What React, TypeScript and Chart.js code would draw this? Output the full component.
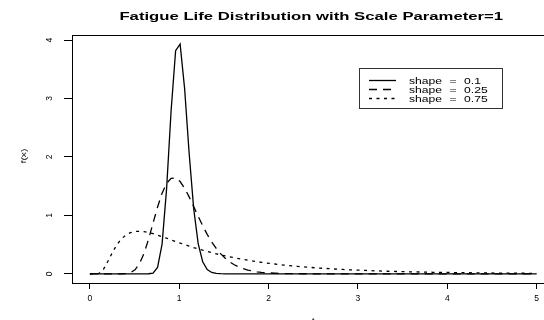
import React, { useEffect, useRef } from "react";
import { Chart, registerables } from "chart.js";

Chart.register(...registerables);

const TITLE = "Fatigue Life Distribution with Scale Parameter=1";
const X_LABEL = "t";
const Y_LABEL = "f(x)";
const X_TICKS = [0, 1, 2, 3, 4, 5];
const Y_TICKS = [0, 1, 2, 3, 4];
const LEGEND_LABELS = ["shape = 0.1", "shape = 0.25", "shape = 0.75"];

// evaluation grid of the original plot: 100 points from 0 to 5
const X_GRID = Array.from({ length: 100 }, (_, i) => (i * 5) / 99);

const SHAPE_01 = [
  0, 0, 0, 0, 0, 0, 0, 0, 0, 0,
  0, 0, 0, 0.001, 0.013, 0.11, 0.508, 1.454, 2.789, 3.819,
  3.93, 3.165, 2.063, 1.119, 0.517, 0.207, 0.073, 0.023, 0.007, 0.002,
  0, 0, 0, 0, 0, 0, 0, 0, 0, 0,
  0, 0, 0, 0, 0, 0, 0, 0, 0, 0,
  0, 0, 0, 0, 0, 0, 0, 0, 0, 0,
  0, 0, 0, 0, 0, 0, 0, 0, 0, 0,
  0, 0, 0, 0, 0, 0, 0, 0, 0, 0,
  0, 0, 0, 0, 0, 0, 0, 0, 0, 0,
  0, 0, 0, 0, 0, 0, 0, 0, 0, 0,
];

const SHAPE_025 = [
  0, 0, 0, 0, 0, 0, 0, 0.0004, 0.004, 0.02,
  0.069, 0.174, 0.35, 0.59, 0.868, 1.143, 1.379, 1.547, 1.634, 1.641,
  1.579, 1.464, 1.316, 1.151, 0.983, 0.822, 0.675, 0.545, 0.434, 0.341,
  0.265, 0.204, 0.155, 0.117, 0.088, 0.065, 0.048, 0.035, 0.026, 0.019,
  0.014, 0.01, 0.007, 0.005, 0.004, 0.003, 0.002, 0.001, 0.001, 0.001,
  0, 0, 0, 0, 0, 0, 0, 0, 0, 0,
  0, 0, 0, 0, 0, 0, 0, 0, 0, 0,
  0, 0, 0, 0, 0, 0, 0, 0, 0, 0,
  0, 0, 0, 0, 0, 0, 0, 0, 0, 0,
  0, 0, 0, 0, 0, 0, 0, 0, 0, 0,
];

const SHAPE_075 = [
  0, 0, 0.007, 0.076, 0.214, 0.367, 0.5, 0.599, 0.666, 0.706,
  0.725, 0.728, 0.721, 0.706, 0.686, 0.662, 0.636, 0.609, 0.581, 0.554,
  0.527, 0.5, 0.475, 0.45, 0.427, 0.404, 0.383, 0.362, 0.343, 0.324,
  0.307, 0.29, 0.275, 0.26, 0.246, 0.233, 0.22, 0.209, 0.197, 0.187,
  0.177, 0.168, 0.159, 0.15, 0.142, 0.135, 0.128, 0.121, 0.115, 0.109,
  0.103, 0.098, 0.093, 0.088, 0.083, 0.079, 0.075, 0.071, 0.067, 0.064,
  0.061, 0.058, 0.055, 0.052, 0.049, 0.047, 0.044, 0.042, 0.04, 0.038,
  0.036, 0.034, 0.033, 0.031, 0.029, 0.028, 0.026, 0.025, 0.024, 0.023,
  0.022, 0.021, 0.02, 0.019, 0.018, 0.017, 0.016, 0.015, 0.014, 0.014,
  0.013, 0.012, 0.012, 0.011, 0.011, 0.01, 0.01, 0.009, 0.009, 0.008,
];

const FONT = '"Liberation Sans", Arial, Helvetica, sans-serif';

function drawStretched(
  ctx: CanvasRenderingContext2D,
  text: string,
  x: number,
  y: number,
  font: string,
  sx: number,
  align: "left" | "center",
  rotate = 0,
  wordSpacing = "0px"
) {
  ctx.save();
  ctx.font = font;
  (ctx as any).wordSpacing = wordSpacing;
  ctx.translate(x, y);
  if (rotate) ctx.rotate(rotate);
  ctx.scale(sx, 1);
  ctx.textAlign = align;
  ctx.textBaseline = "alphabetic";
  ctx.fillText(text, 0, 0);
  ctx.restore();
}

const decorPlugin = {
  id: "decor",
  afterDraw(chart: any) {
    const { ctx, chartArea: ca, scales } = chart;
    const xs = scales.x;
    const ys = scales.y;
    ctx.save();
    ctx.fillStyle = "#000";
    ctx.strokeStyle = "#000";
    ctx.lineWidth = 1;

    // plot box
    const left = Math.round(ca.left) + 0.5;
    const top = Math.round(ca.top) + 0.5;
    const bottom = Math.round(ca.bottom) + 0.5;
    const right = xs.getPixelForValue(5.2);
    ctx.strokeRect(left, top, right - left, bottom - top);

    // rotated y tick labels
    ctx.font = `8.5px ${FONT}`;
    ys.ticks.forEach((t: any) => {
      const y = ys.getPixelForValue(t.value);
      ctx.save();
      ctx.translate(50, y);
      ctx.rotate(-Math.PI / 2);
      ctx.textAlign = "center";
      ctx.textBaseline = "middle";
      ctx.fillText(String(t.value), 0, 0);
      ctx.restore();
    });

    // title
    const cx = (ca.left + right) / 2;
    drawStretched(ctx, TITLE, cx - 2, 20, `bold 10px ${FONT}`, 1.67, "center");

    // axis labels
    drawStretched(ctx, X_LABEL, cx, 324, `9px ${FONT}`, 1.0, "center");
    drawStretched(ctx, Y_LABEL, 26, (ca.top + ca.bottom) / 2 - 3, `8px ${FONT}`, 1.3, "center", -Math.PI / 2);

    // legend
    const lx = 359.5;
    const ly = 68.5;
    ctx.strokeStyle = "#333";
    ctx.strokeRect(lx, ly, 143, 40);
    const rows = [80, 89, 98];
    chart.data.datasets.forEach((ds: any, i: number) => {
      const yy = rows[i] + 0.5;
      ctx.save();
      ctx.strokeStyle = "#000";
      ctx.lineWidth = ds.borderWidth;
      ctx.setLineDash(ds.borderDash || []);
      ctx.beginPath();
      ctx.moveTo(369, yy);
      ctx.lineTo(396, yy);
      ctx.stroke();
      ctx.restore();
      drawStretched(ctx, ds.label, 409, rows[i] + 3.5, `9px ${FONT}`, 1.35, "left", 0, "3px");
    });
    ctx.restore();
  },
};

export default function App() {
  const ref = useRef<HTMLCanvasElement>(null);

  useEffect(() => {
    if (!ref.current) return;
    const mk = (ys: number[]) => X_GRID.map((x, i) => ({ x, y: ys[i] }));
    const chart = new Chart(ref.current, {
      type: "line",
      data: {
        datasets: [
          { label: LEGEND_LABELS[0], data: mk(SHAPE_01), borderColor: "#000", borderWidth: 1.3, borderDash: [] },
          { label: LEGEND_LABELS[1], data: mk(SHAPE_025), borderColor: "#000", borderWidth: 1.3, borderDash: [8, 6] },
          { label: LEGEND_LABELS[2], data: mk(SHAPE_075), borderColor: "#000", borderWidth: 1.3, borderDash: [3, 4.5] },
        ],
      },
      options: {
        responsive: false,
        devicePixelRatio: 1,
        animation: false,
        layout: { padding: { top: 35, right: 0, left: 0, bottom: 0 } },
        elements: { point: { radius: 0 }, line: { tension: 0, fill: false } },
        plugins: { legend: { display: false }, tooltip: { enabled: false }, title: { display: false } },
        scales: {
          x: {
            type: "linear",
            min: -0.2,
            max: 5.078,
            afterBuildTicks: (s: any) => {
              s.ticks = X_TICKS.map((v) => ({ value: v }));
            },
            afterFit: (s: any) => {
              s.height = 37;
            },
            grid: { drawOnChartArea: false, drawTicks: true, tickLength: 6, color: "#000", lineWidth: 1 },
            border: { display: false },
            ticks: {
              color: "#000",
              font: { family: FONT, size: 8.5 },
              padding: 5,
              maxRotation: 0,
              autoSkip: false,
            },
          },
          y: {
            type: "linear",
            min: -0.157,
            max: 4.086,
            afterBuildTicks: (s: any) => {
              s.ticks = Y_TICKS.map((v) => ({ value: v }));
            },
            afterFit: (s: any) => {
              s.width = 72;
            },
            grid: { drawOnChartArea: false, drawTicks: true, tickLength: 8, color: "#000", lineWidth: 1 },
            border: { display: false },
            ticks: { display: false },
          },
        },
      },
      plugins: [decorPlugin],
    });
    return () => chart.destroy();
  }, []);

  return (
    <div style={{ position: "fixed", left: 0, top: 0, width: 544, height: 320, background: "#fff" }}>
      <canvas ref={ref} width={544} height={320} style={{ display: "block", width: 544, height: 320 }} />
    </div>
  );
}
